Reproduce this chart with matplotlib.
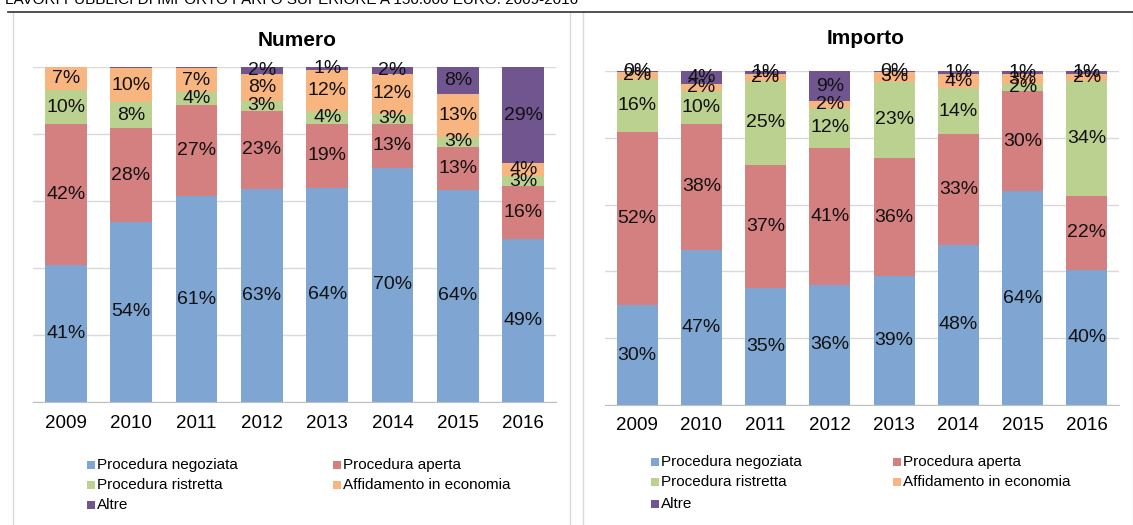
import numpy as np
import matplotlib
matplotlib.use("Agg")
import matplotlib.pyplot as plt
from matplotlib.patches import Rectangle
from matplotlib.lines import Line2D

plt.rcParams['font.family'] = ['Liberation Sans', 'DejaVu Sans']

years = ['2009', '2010', '2011', '2012', '2013', '2014', '2015', '2016']
series = ['Procedura negoziata', 'Procedura aperta', 'Procedura ristretta',
          'Affidamento in economia', 'Altre']
colors = ['#7FA6D2', '#D58080', '#BBD18F', '#F8B57F', '#70558F']

# Numero (%)
num_negoziata = [41, 54, 61, 63, 64, 70, 64, 49]
num_aperta = [42, 28, 27, 23, 19, 13, 13, 16]
num_ristretta = [10, 8, 4, 3, 4, 3, 3, 3]
num_economia = [7, 10, 7, 8, 12, 12, 13, 4]
num_altre = [0, 0.4, 0.4, 2, 1, 2, 8, 29]

# Importo (%)
imp_negoziata = [30, 47, 35, 36, 39, 48, 64, 40]
imp_aperta = [52, 38, 37, 41, 36, 33, 30, 22]
imp_ristretta = [16, 10, 25, 12, 23, 14, 2, 34]
imp_economia = [2, 2, 2, 2, 3, 4, 3, 2]
imp_altre = [0.3, 4, 1, 9, 0.3, 1, 1, 1]

W, H = 1133, 525
fig = plt.figure(figsize=(W / 100, H / 100), dpi=100)


def px(x0, y0, x1, y1):
    # pixel box (top-left origin) -> figure fraction rect
    return [x0 / W, 1 - y1 / H, (x1 - x0) / W, (y1 - y0) / H]


def draw(ax, data, show_zero):
    data = np.array(data, dtype=float)
    totals = data.sum(axis=0)
    x = np.arange(len(years))
    bottom = np.zeros(len(years))
    for vals, col in zip(data, colors):
        h = vals / totals * 100
        ax.bar(x, h, bottom=bottom, width=0.64, color=col, edgecolor='none', zorder=2)
        for xi, b, hi, v in zip(x, bottom, h, vals):
            if round(v) == 0 and not show_zero:
                continue
            ax.text(xi, b + hi / 2, f"{v:.0f}%", ha='center', va='center',
                    fontsize=14, color='#111111', zorder=3)
        bottom += h
    ax.set_xlim(-0.5, len(years) - 0.5)
    ax.set_ylim(0, 100)
    ax.set_yticks([0, 20, 40, 60, 80, 100])
    ax.yaxis.grid(True, color='#D9D9D9', linewidth=1, zorder=0)
    ax.set_yticklabels([])
    ax.tick_params(axis='y', length=0)
    ax.set_xticks(x)
    ax.set_xticklabels(years, fontsize=13.5)
    ax.tick_params(axis='x', length=0, pad=9)
    for s in ['top', 'right', 'left']:
        ax.spines[s].set_visible(False)
    ax.spines['bottom'].set_color('#BFBFBF')
    ax.set_axisbelow(True)


ax1 = fig.add_axes(px(33, 67, 556, 402))
draw(ax1, [num_negoziata, num_aperta, num_ristretta, num_economia, num_altre], False)
ax2 = fig.add_axes(px(605, 71, 1119, 405))
draw(ax2, [imp_negoziata, imp_aperta, imp_ristretta, imp_economia, imp_altre], True)

fig.text(297 / W, 1 - 40 / H, 'Numero', ha='center', va='center', fontsize=15, fontweight='bold')
fig.text(866 / W, 1 - 38 / H, 'Importo', ha='center', va='center', fontsize=15, fontweight='bold')

# panel frames
for x0, x1 in [(13, 570), (583, 1133)]:
    fig.add_artist(Line2D([x0 / W, x0 / W], [0, 1 - 12 / H], color='#D9D9D9', lw=1))
    fig.add_artist(Line2D([x1 / W, x1 / W], [0, 1 - 12 / H], color='#D9D9D9', lw=1))
fig.add_artist(Line2D([8 / W, 1], [1 - 12 / H, 1 - 12 / H], color='#333333', lw=1.2))

# cut-off heading at top
fig.text(5 / W, 1 - 4 / H, 'LAVORI PUBBLICI DI IMPORTO PARI O SUPERIORE A 150.000 EURO. 2009-2016',
         ha='left', va='baseline', fontsize=11)

# legends
for mx, cx, rows in [(90, 336, (465, 485, 505)), (654, 896, (462, 482, 504))]:
    pos = [(mx, rows[0]), (cx, rows[0]), (mx, rows[1]), (cx, rows[1]), (mx, rows[2])]
    for i, (lx, ly) in enumerate(pos):
        fig.add_artist(Rectangle(((lx - 3) / W, 1 - (ly + 4) / H), 8 / W, 8 / H,
                                 transform=fig.transFigure, color=colors[i], lw=0))
        fig.text((lx + 7) / W, 1 - ly / H, series[i], ha='left', va='center', fontsize=11)

fig.savefig('out.png', dpi=100)
